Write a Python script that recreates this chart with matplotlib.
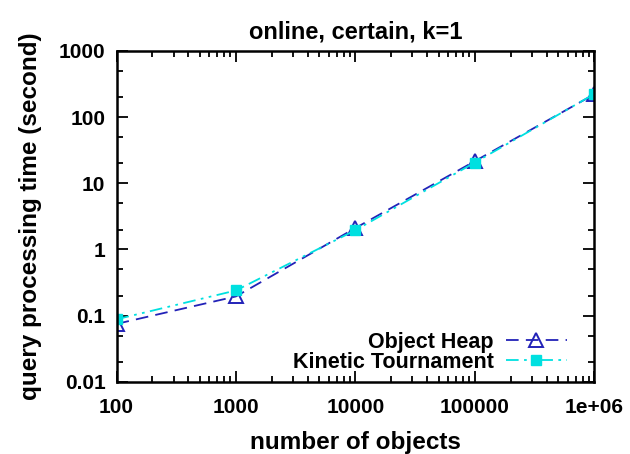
import numpy as np
import matplotlib; matplotlib.use("Agg")
import matplotlib.pyplot as plt
from matplotlib.ticker import LogLocator, NullFormatter

plt.rcParams['font.family'] = ['Liberation Sans', 'DejaVu Sans']
plt.rcParams['font.weight'] = 'bold'

n_objects = [100, 1000, 10000, 100000, 1000000]
x_ticklabels = ["100", "1000", "10000", "100000", "1e+06"]
object_heap = [0.075, 0.195, 2.1, 21.5, 220]
kinetic_tournament = [0.088, 0.24, 1.95, 20.5, 222]
y_ticks = [0.01, 0.1, 1, 10, 100, 1000]
y_ticklabels = ["0.01", "0.1", "1", "10", "100", "1000"]

fig = plt.figure(figsize=(6.3, 4.54), dpi=100)
ax = fig.add_axes([0.185, 0.159, 0.758, 0.729])

ax.plot(n_objects, object_heap, color="#2222b8", lw=1.3, dashes=(7, 4),
        marker="^", ms=10, mfc="none", mec="#2222b8", mew=1.4, label="Object Heap")
ax.plot(n_objects, kinetic_tournament, color="#00e0e0", lw=1.3, dashes=(7, 3, 1.5, 3, 1.5, 3),
        marker="s", ms=7.5, mfc="#00e0e0", mec="#00e0e0", label="Kinetic Tournament")

ax.set_xscale("log")
ax.set_yscale("log")
ax.set_xlim(100, 1e6)
ax.set_ylim(0.01, 1000)

ax.set_xticks(n_objects)
ax.set_xticklabels(x_ticklabels)
ax.xaxis.set_minor_locator(LogLocator(base=10, subs=np.arange(2, 10)))
ax.xaxis.set_minor_formatter(NullFormatter())
ax.set_yticks(y_ticks)
ax.set_yticklabels(y_ticklabels)
ax.yaxis.set_minor_locator(LogLocator(base=10, subs=[2, 5]))
ax.yaxis.set_minor_formatter(NullFormatter())

ax.tick_params(which="both", direction="in", top=True, right=True, width=1.3)
ax.tick_params(which="major", length=8, labelsize=15)
ax.tick_params(which="minor", length=4)
ax.tick_params(axis="x", which="major", pad=12)
ax.tick_params(axis="y", which="major", pad=8)
for s in ax.spines.values():
    s.set_linewidth(1.8)

ax.set_xlabel("number of objects", fontsize=17.5, fontweight="bold", labelpad=10)
ax.set_ylabel("query processing time (second)", fontsize=17.5, fontweight="bold", labelpad=12)
ax.set_title("online, certain, k=1", fontsize=17, fontweight="bold", pad=9)

leg = ax.legend(loc="lower right", bbox_to_anchor=(0.965, -0.005), markerfirst=False,
                frameon=False, handlelength=2.8, handletextpad=0.6, borderpad=0,
                labelspacing=-0.05, prop={"weight": "bold", "size": 15.5})

fig.savefig("out.png", dpi=100)
